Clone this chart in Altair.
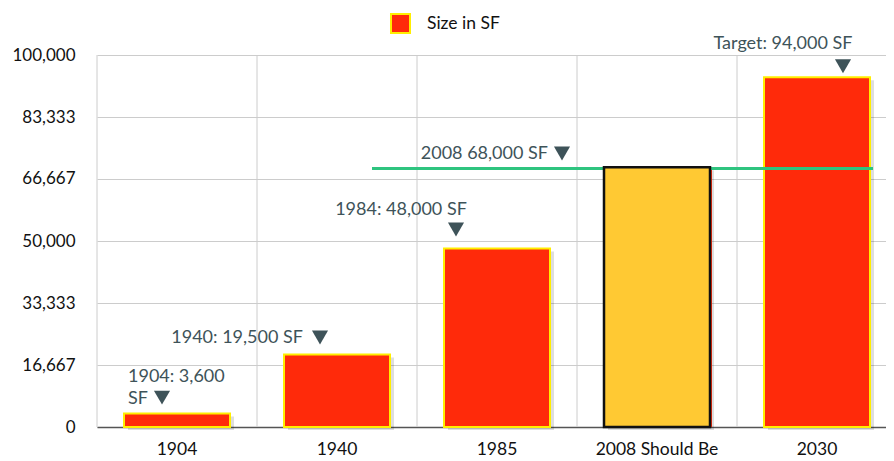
import altair as alt
import pandas as pd

# ---- data ----
categories = ["1904", "1940", "1985", "2008 Should Be", "2030"]
sizes = [3600, 19500, 48000, 69800, 94000]
highlight = "2008 Should Be"
series_name = "Size in SF"
line_value = 69500          # "2008 68,000 SF" reference line
line_from, line_to = "1940", "2030"
y_ticks = [0, 16666.67, 33333.33, 50000, 66666.67, 83333.33, 100000]

FONT = "Lato"
RED = "#ff2a0a"
YELLOW_FILL = "#ffc933"
YELLOW_STROKE = "#ffee00"
GREEN = "#2ec47f"
NOTE = "#3e5359"
GRID = "#cccccc"
BAND = 0.6625

df = pd.DataFrame({"cat": categories, "v": sizes, "series": series_name})
df_red = df[df["cat"] != highlight]
df_hi = df[df["cat"] == highlight]

xscale = alt.Scale(domain=categories, paddingInner=0, paddingOuter=0, range=[0, 800])
yscale = alt.Scale(domain=[0, 100000], nice=False)

yaxis = alt.Axis(
    values=y_ticks, format=",.0f", grid=True, gridColor=GRID, gridWidth=1,
    domain=False, ticks=False, labelPadding=22, labelFont=FONT,
    labelFontSize=17, labelColor="#111111",
)
xaxis = alt.Axis(
    grid=False, domainColor="#555555", domainWidth=1.5, ticks=False,
    labelAngle=0, labelPadding=13, labelFont=FONT, labelFontSize=17.5,
    labelColor="#111111",
)

def X(**kw):
    return alt.X("cat:N", scale=xscale, sort=categories, title=None, axis=xaxis, **kw)

def Y(field="v:Q"):
    return alt.Y(field, scale=yscale, title=None, axis=yaxis)

vgrid = alt.Chart(pd.DataFrame({"cat": categories})).mark_rule(
    color=GRID, strokeWidth=1
).encode(x=X(bandPosition=0))

shadow = alt.Chart(df).mark_bar(
    color="#000000", opacity=0.13, xOffset=4, yOffset=3,
    width=alt.RelativeBandSize(BAND)
).encode(x=X(), y=Y())

bars = alt.Chart(df_red).mark_bar(
    stroke=YELLOW_STROKE, strokeWidth=2, width=alt.RelativeBandSize(BAND)
).encode(
    x=X(), y=Y(),
    color=alt.Color(
        "series:N",
        scale=alt.Scale(domain=[series_name], range=[RED]),
        legend=alt.Legend(
            orient="none", legendX=293, legendY=-42, title=None,
            symbolType="square", symbolSize=361, symbolStrokeColor=YELLOW_STROKE,
            symbolStrokeWidth=2, labelFont=FONT, labelFontSize=17.5,
            labelColor="#111111", labelOffset=16, padding=0,
        ),
    ),
)

# thin red bar peeking out behind the highlighted bar
under = alt.Chart(df_hi).mark_bar(
    color=RED, xOffset=2, width=alt.RelativeBandSize(BAND)
).encode(x=X(), y=Y())

line_df = pd.DataFrame({"a": [line_from], "b": [line_to], "v": [line_value]})
gline = alt.Chart(line_df).mark_rule(
    color=GREEN, strokeWidth=3, xOffset=35, x2Offset=56
).encode(
    x=alt.X("a:N", scale=xscale, sort=categories, title=None, axis=xaxis),
    x2="b:N",
    y=Y(),
)

hibar = alt.Chart(df_hi).mark_bar(
    color=YELLOW_FILL, stroke="#111111", strokeWidth=2.5,
    width=alt.RelativeBandSize(BAND)
).encode(x=X(), y=Y())


def note(cat, val, text, align, dx, dy):
    d = pd.DataFrame({"cat": [cat], "v": [val], "t": [text]})
    return alt.Chart(d).mark_text(
        align=align, baseline="middle", dx=dx, dy=dy,
        font=FONT, fontSize=18, color=NOTE
    ).encode(x=X(), y=Y(), text="t:N")


def tri(cat, val, dx, dy):
    d = pd.DataFrame({"cat": [cat], "v": [val]})
    return alt.Chart(d).mark_point(
        shape="triangle-down", filled=True, size=260, color=NOTE,
        opacity=1, xOffset=dx, yOffset=dy
    ).encode(x=X(), y=Y())


v = dict(zip(categories, sizes))
notes = [
    note("1904", v["1904"], "1904: 3,600", "left", -49, -37),
    note("1904", v["1904"], "SF", "left", -49, -15),
    tri("1904", v["1904"], -15, -16),
    note("1940", v["1940"], "1940: 19,500 SF", "right", -34, -16),
    tri("1940", v["1940"], -17, -17),
    note("1985", v["1985"], "1984: 48,000 SF", "center", -96, -38),
    tri("1985", v["1985"], -41, -19),
    note("1985", line_value, "2008 68,000 SF", "right", 51, -14),
    tri("1985", line_value, 65, -15),
    note("2030", v["2030"], "Target: 94,000 SF", "center", -34, -33),
    tri("2030", v["2030"], 26, -11),
]

chart = alt.layer(vgrid, shadow, bars, under, gline, hibar, *notes).properties(
    width=789, height=372,
    autosize=alt.AutoSizeParams(type="none"),
    padding={"left": 89, "top": 47, "right": 0, "bottom": 38},
).configure_view(stroke=None)

chart.save("out.html", embed_options={"renderer": "svg", "actions": False})
